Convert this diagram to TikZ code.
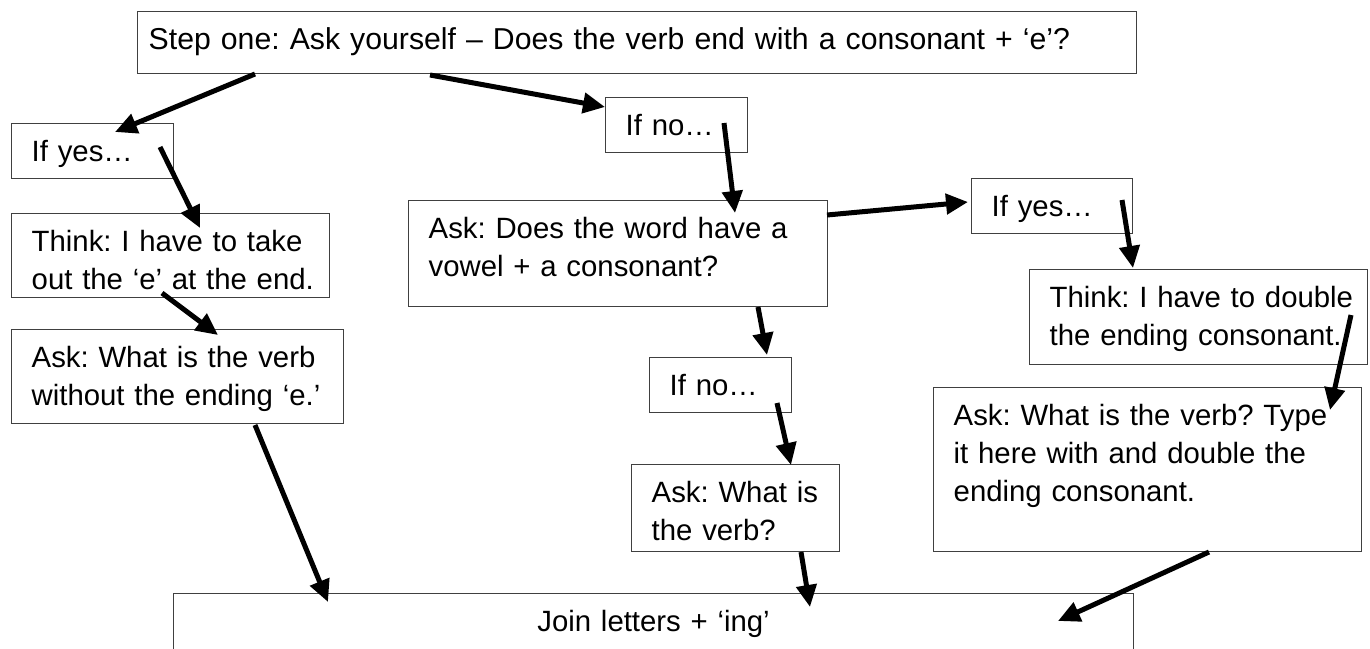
\documentclass[tikz,border=0pt]{standalone}
\usepackage{fontspec}
\setmainfont{Liberation Sans}
\usetikzlibrary{arrows.meta, calc}

\begin{document}
\begin{tikzpicture}[
        x=0.02cm, y=-0.02cm,
        font=\fontsize{16.7}{21.6}\selectfont\frenchspacing,
        % Style for the text boxes
        flowbox/.style={
            draw=black!75,
            line width=0.8pt,
            rectangle,
            anchor=north west,
            align=left,
            inner xsep=0.4cm,
            inner ysep=0.34cm,
            text height=0.42cm
        },
        % Style for the thick arrows
        arrow/.style={-{Triangle[length=0.44cm, width=0.4cm]}, line width=0.1cm, black}
    ]

        \useasboundingbox (0,0) rectangle (1370,649);

        % 1. Question at the top
        \node[flowbox, font=\fontsize{17.2}{21.6}\selectfont\frenchspacing, text width=19.54cm,
              inner xsep=0.22cm, text depth=0.14cm] (stepone) at (137,11)
            {\mbox{Step one: Ask yourself – Does the verb end with a consonant + ‘e’?}};

        % 2. Left branch (ends with 'e')
        \node[flowbox, text width=2.44cm, text depth=0cm] (yesL) at (11,123) {If yes…};
        \node[flowbox, text width=5.56cm, text depth=0.58cm] (thinkE) at (11,213)
            {\mbox{Think: I have to take}\\\mbox{out the ‘e’ at the end.}};
        \node[flowbox, text width=5.84cm, text depth=0.78cm] (askNoE) at (11,329)
            {\mbox{Ask: What is the verb}\\\mbox{without the ending ‘e.’}};

        % 3. Middle branch
        \node[flowbox, text width=2.04cm, text depth=0cm] (noTop) at (605,97) {If no…};
        \node[flowbox, text width=7.58cm, text depth=1.02cm] (askDoes) at (408,200)
            {\mbox{Ask: Does the word have a}\\\mbox{vowel + a consonant?}};
        \node[flowbox, text width=2.04cm, text depth=0cm] (noMid) at (649,357) {If no…};
        \node[flowbox, text width=3.36cm, text depth=0.64cm] (askVerb) at (631,464)
            {\mbox{Ask: What is}\\\mbox{the verb?}};

        % 4. Right branch (double the consonant)
        \node[flowbox, text width=2.42cm, text depth=0cm] (yesR) at (971,178) {If yes…};
        \node[flowbox, text width=5.96cm, text depth=0.8cm] (thinkDbl) at (1029,269)
            {\mbox{Think: I have to double}\\\mbox{the ending consonant.}};
        \node[flowbox, text width=7.76cm, text depth=2.18cm] (askDbl) at (933,387)
            {\mbox{Ask: What is the verb? Type}\\\mbox{it here with and double the}\\\mbox{ending consonant.}};

        % 5. Final box
        \node[flowbox, align=center, text width=18.4cm, text depth=2cm] (join) at (173,593)
            {Join letters + ‘ing’};

        % Arrows
        \draw[arrow] ($(stepone.north west)+(118,63)$) -- ($(yesL.north west)+(104,9)$);
        \draw[arrow] ($(stepone.north west)+(293,64)$) -- ($(noTop.north west)+(0,10)$);
        \draw[arrow] ($(yesL.north west)+(149,24)$) -- ($(thinkE.north west)+(189,15)$);
        \draw[arrow] ($(thinkE.north west)+(151,80)$) -- ($(askNoE.north west)+(207,6)$);
        \draw[arrow] ($(askNoE.north west)+(244,96)$) -- ($(join.north west)+(155,9)$);
        \draw[arrow] ($(noTop.north west)+(119,26)$) -- ($(askDoes.north west)+(327,13)$);
        \draw[arrow] ($(askDoes.north west)+(419,15)$) -- ($(yesR.north west)+(-3,24)$);
        \draw[arrow] ($(askDoes.north west)+(350,107)$) -- ($(noMid.north west)+(118,-2)$);
        \draw[arrow] ($(noMid.north west)+(128,46)$) -- ($(askVerb.north west)+(160,1)$);
        \draw[arrow] ($(askVerb.north west)+(170,88)$) -- ($(join.north west)+(637,14)$);
        \draw[arrow] ($(yesR.north west)+(151,22)$) -- ($(thinkDbl.north west)+(104,-1)$);
        \draw[arrow] ($(thinkDbl.north west)+(322,46)$) -- ($(askDbl.north west)+(397,23)$);
        \draw[arrow] ($(askDbl.north west)+(276,165)$) -- ($(join.north west)+(885,28)$);

    \end{tikzpicture}
\end{document}
